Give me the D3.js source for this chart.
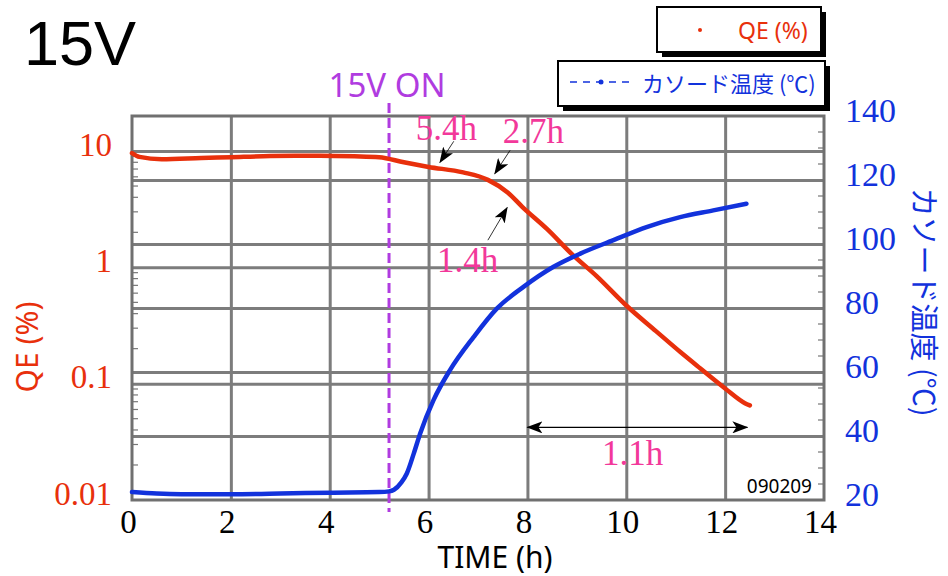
<!DOCTYPE html>
<html>
<head>
<meta charset="utf-8">
<script src="https://d3js.org/d3.v7.min.js"></script>
<style>
body { margin: 0; background: #fff; }
.grid line { stroke: #7c7c7c; stroke-width: 3; }
.grid path { display: none; }
.tlab text { font-family: "Liberation Serif", "Times New Roman", serif; }
</style>
</head>
<body>
<script>
// QE (%) vs time
var qeHours = [0, 0.15, 0.6, 1.4, 2.0, 2.8, 3.8, 4.5, 5.0, 5.5, 6.0, 6.7, 7.2, 7.6, 7.9,
	8.4, 8.9, 9.4, 10.0, 10.6, 11.1, 11.5, 12.0, 12.4, 12.5];
var qeValues = [9.6, 8.9, 8.5, 8.7, 8.85, 9.05, 9.1, 9.0, 8.85, 8.0, 7.3, 6.55, 5.65, 4.4, 3.3,
	2.13, 1.3, 0.84, 0.47, 0.283, 0.186, 0.135, 0.091, 0.068, 0.065];

// cathode temperature (C)
var tempHours = [0, 0.5, 1, 2, 3, 4, 5, 5.2, 5.3, 5.45, 5.56, 5.7, 5.83, 6.1, 6.43, 6.91,
	7.38, 7.92, 8.52, 9.07, 9.74, 10.41, 11.09, 11.76, 12.43];
var tempValues = [22.5, 22.0, 21.8, 21.8, 22.0, 22.3, 22.5, 22.7, 23.2, 25.5, 28.3, 34.5, 40.8, 51.2, 60.5, 70.9,
	79.8, 86.6, 92.8, 97, 101.2, 105.3, 108.4, 110.5, 112.6];

var timeTicks = [0, 2, 4, 6, 8, 10, 12, 14];
var qeTicks = [0.01, 0.1, 1, 10];
var tempTicks = [20, 40, 60, 80, 100, 120, 140];
var onTime = 5.2;

// annotations: [label, t, temp] and arrows [t1, temp1, t2, temp2]
var notes = [["5.4h", 6.36, 132.4], ["2.7h", 8.12, 131.5], ["1.4h", 6.79, 91.2], ["1.1h", 10.13, 30.9]];
var arrows = [[6.51, 132.1, 6.23, 125.5], [7.65, 129.3, 7.34, 122], [7.2, 101.2, 7.59, 111.4]];
var span = [8.0, 12.45, 42.7];

var red = "#e8300c";
var blue = "#1232dc";
var pink = "#f2389a";
var purple = "#b03ce0";

var W = 948, H = 576;
var L = 132, R = 824, T = 116, B = 500;

var svg = d3.select(document.body).append("svg")
	.attr("width", W).attr("height", H);

var x = d3.scaleLinear().domain([0, 14]).range([L, R]);
var yQE = d3.scaleLog().domain([0.01, 20]).range([B, T]);
var yT = d3.scaleLinear().domain([20, 140]).range([B, T]);

var defs = svg.append("defs");
defs.append("marker").attr("id", "head")
	.attr("viewBox", "0 -6 16 12").attr("refX", 15).attr("refY", 0)
	.attr("markerWidth", 16).attr("markerHeight", 12).attr("markerUnits", "userSpaceOnUse")
	.attr("orient", "auto-start-reverse")
	.append("path").attr("d", "M0,-6L16,0L0,6L4,0Z").attr("fill", "#000");

// grid
svg.append("g").attr("class", "grid")
	.attr("transform", "translate(0," + B + ")")
	.call(d3.axisBottom(x).tickValues([2, 4, 6, 8, 10, 12]).tickSize(-(B - T)).tickFormat(""));
svg.append("g").attr("class", "grid")
	.attr("transform", "translate(" + L + ",0)")
	.call(d3.axisLeft(yQE).tickValues([0.1, 1, 10]).tickSize(-(R - L)).tickFormat(""));
svg.append("g").attr("class", "grid")
	.attr("transform", "translate(" + R + ",0)")
	.call(d3.axisRight(yT).tickValues([40, 60, 80, 100, 120]).tickSize(-(R - L)).tickFormat(""));

// minor ticks
var logMinor = [];
[0.01, 0.1, 1].forEach(function (d) {
	for (var k = 2; k <= 9; k++) { logMinor.push(d * k); }
});
svg.append("g").selectAll("line").data(logMinor).join("line")
	.attr("x1", L).attr("x2", L + 6)
	.attr("y1", function (d) { return yQE(d); }).attr("y2", function (d) { return yQE(d); })
	.attr("stroke", "#777").attr("stroke-width", 1.2);
var linMinor = d3.range(25, 140, 5).filter(function (d) { return d % 20 != 0; });
svg.append("g").selectAll("line").data(linMinor).join("line")
	.attr("x1", R - 6).attr("x2", R)
	.attr("y1", function (d) { return yT(d); }).attr("y2", function (d) { return yT(d); })
	.attr("stroke", "#777").attr("stroke-width", 1.2);

// frame
svg.append("rect").attr("x", L).attr("y", T).attr("width", R - L).attr("height", B - T)
	.attr("fill", "none").attr("stroke", "#707070").attr("stroke-width", 3);

// tick labels
var gx = svg.append("g").attr("class", "tlab").attr("transform", "translate(0," + B + ")")
	.call(d3.axisBottom(x).tickValues(timeTicks).tickSize(0).tickFormat(d3.format("d")));
gx.select(".domain").remove();
gx.selectAll("text").attr("y", 33).attr("dy", null).attr("x", -4)
	.attr("font-size", 33).attr("fill", "#000");

var gl = svg.append("g").attr("class", "tlab").attr("transform", "translate(" + L + ",0)")
	.call(d3.axisLeft(yQE).tickValues(qeTicks).tickSize(0).tickPadding(20).tickFormat(function (d) { return String(d); }));
gl.select(".domain").remove();
gl.selectAll("text").attr("dy", null).attr("y", 4).attr("font-size", 33).attr("fill", red);

var gr = svg.append("g").attr("class", "tlab").attr("transform", "translate(" + R + ",0)")
	.call(d3.axisRight(yT).tickValues(tempTicks).tickSize(0).tickPadding(21).tickFormat(d3.format("d")));
gr.select(".domain").remove();
gr.selectAll("text").attr("dy", null).attr("y", 5).attr("font-size", 34).attr("fill", blue);

// 15V ON line
svg.append("line")
	.attr("x1", x(onTime)).attr("x2", x(onTime)).attr("y1", 103).attr("y2", 512)
	.attr("stroke", purple).attr("stroke-width", 3).attr("stroke-dasharray", "10,5");

// curves
var qeLine = d3.line()
	.x(function (d, i) { return x(qeHours[i]); })
	.y(function (d) { return yQE(d); })
	.curve(d3.curveMonotoneX);
svg.append("path").attr("d", qeLine(qeValues))
	.attr("fill", "none").attr("stroke", red).attr("stroke-width", 4.5).attr("stroke-linecap", "round");

var tLine = d3.line()
	.x(function (d, i) { return x(tempHours[i]); })
	.y(function (d) { return yT(d); })
	.curve(d3.curveMonotoneX);
svg.append("path").attr("d", tLine(tempValues))
	.attr("fill", "none").attr("stroke", blue).attr("stroke-width", 4.5).attr("stroke-linecap", "round");

// annotations
svg.append("g").selectAll("line").data(arrows).join("line")
	.attr("x1", function (d) { return x(d[0]); }).attr("y1", function (d) { return yT(d[1]); })
	.attr("x2", function (d) { return x(d[2]); }).attr("y2", function (d) { return yT(d[3]); })
	.attr("stroke", "#000").attr("stroke-width", 0.8).attr("marker-end", "url(#head)");
svg.append("line")
	.attr("x1", x(span[0])).attr("x2", x(span[1])).attr("y1", yT(span[2])).attr("y2", yT(span[2]))
	.attr("stroke", "#000").attr("stroke-width", 1.2)
	.attr("marker-start", "url(#head)").attr("marker-end", "url(#head)");
svg.append("g").selectAll("text").data(notes).join("text")
	.attr("x", function (d) { return x(d[1]); }).attr("y", function (d) { return yT(d[2]); })
	.attr("text-anchor", "middle").attr("font-family", "Liberation Serif, serif")
	.attr("font-size", 35).attr("fill", pink).text(function (d) { return d[0]; });

svg.append("text").attr("x", 812).attr("y", 493).attr("text-anchor", "end")
	.attr("font-family", "Noto Sans, sans-serif").attr("font-size", 19).attr("fill", "#000").text("090209");

// titles
svg.append("text").attr("x", 24).attr("y", 65)
	.attr("font-family", "Liberation Sans, Arial, sans-serif").attr("font-size", 63).attr("fill", "#000").text("15V");
svg.append("text").attr("x", 387).attr("y", 97).attr("text-anchor", "middle")
	.attr("font-family", "Noto Sans, sans-serif").attr("font-size", 33).attr("fill", purple).text("15V ON");
svg.append("text").attr("x", 495).attr("y", 568).attr("text-anchor", "middle")
	.attr("font-family", "Noto Sans, sans-serif").attr("font-size", 30).attr("fill", "#000").text("TIME (h)");
svg.append("text").attr("transform", "translate(38,347) rotate(-90)").attr("text-anchor", "middle")
	.attr("font-family", "Noto Sans, sans-serif").attr("font-size", 30).attr("fill", red).text("QE (%)");
svg.append("text").attr("transform", "translate(913,302) rotate(90)").attr("text-anchor", "middle")
	.attr("font-family", "Noto Sans CJK JP, sans-serif").attr("font-size", 29).attr("fill", blue).text("カソード温度 (℃)");

// legend boxes
function box(x0, y0, w, h) {
	svg.append("rect").attr("x", x0 + 5).attr("y", y0 + 5).attr("width", w).attr("height", h).attr("fill", "#000");
	svg.append("rect").attr("x", x0).attr("y", y0).attr("width", w).attr("height", h)
		.attr("fill", "#fff").attr("stroke", "#000").attr("stroke-width", 2);
}
box(657, 7, 164, 45);
svg.append("circle").attr("cx", 700).attr("cy", 30).attr("r", 2).attr("fill", red);
svg.append("text").attr("x", 738).attr("y", 39)
	.attr("font-family", "Noto Sans, Noto Sans CJK JP, sans-serif").attr("font-size", 23).attr("fill", red).text("QE (%)");

box(558, 61, 267, 45);
svg.append("line").attr("x1", 570).attr("x2", 632).attr("y1", 82).attr("y2", 82)
	.attr("stroke", blue).attr("stroke-width", 1.5).attr("stroke-dasharray", "7,6");
svg.append("circle").attr("cx", 601).attr("cy", 82).attr("r", 2.5).attr("fill", blue);
svg.append("text").attr("x", 642).attr("y", 92)
	.attr("font-family", "Noto Sans CJK JP, sans-serif").attr("font-size", 22).attr("fill", blue).text("カソード温度 (℃)");
</script>
</body>
</html>
